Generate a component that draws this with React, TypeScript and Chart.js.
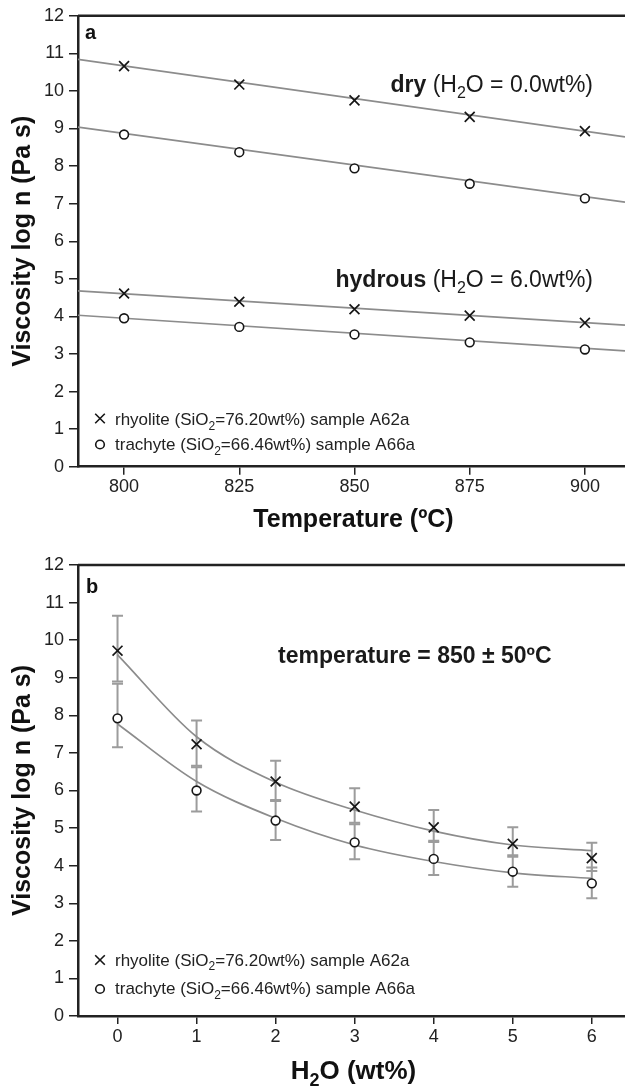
import React, { useEffect, useRef } from 'react';
import { Chart, registerables } from 'chart.js';

Chart.register(...registerables);

const FONT = "'Liberation Sans', Arial, Helvetica, sans-serif";

// ---------- shared axis ----------
const viscosityTicks = [0, 1, 2, 3, 4, 5, 6, 7, 8, 9, 10, 11, 12];

// ---------- panel a : viscosity vs temperature ----------
const temperatures = [800, 825, 850, 875, 900];
const temperatureTicks = [800, 825, 850, 875, 900];
const temperatureRange = [790, 908.7];
const dryRhyolite = [10.66, 10.17, 9.75, 9.31, 8.93];
const dryTrachyte = [8.84, 8.37, 7.94, 7.53, 7.14];
const hydrousRhyolite = [4.61, 4.39, 4.19, 4.02, 3.83];
const hydrousTrachyte = [3.95, 3.72, 3.52, 3.31, 3.12];
// fit lines, values at the two ends of the temperature range
const dryRhyoliteFit = [10.84, 8.78];
const dryTrachyteFit = [9.04, 7.04];
const hydrousRhyoliteFit = [4.68, 3.77];
const hydrousTrachyteFit = [4.03, 3.08];

// ---------- panel b : viscosity vs water content ----------
const waterContent = [0, 1, 2, 3, 4, 5, 6];
const waterTicks = [0, 1, 2, 3, 4, 5, 6];
const waterRange = [-0.5, 6.42];
const rhyoliteB = [9.72, 7.23, 6.24, 5.57, 5.02, 4.58, 4.2];
const rhyoliteBHigh = [10.65, 7.86, 6.79, 6.06, 5.48, 5.02, 4.61];
const rhyoliteBLow = [8.9, 6.66, 5.75, 5.14, 4.66, 4.24, 3.86];
const trachyteB = [7.92, 6.0, 5.2, 4.62, 4.18, 3.84, 3.53];
const trachyteBHigh = [8.84, 6.62, 5.72, 5.1, 4.63, 4.28, 3.95];
const trachyteBLow = [7.15, 5.44, 4.68, 4.17, 3.75, 3.44, 3.13];
const rhyoliteCurve = [9.61, 7.43, 6.22, 5.48, 4.92, 4.55, 4.4];
const trachyteCurve = [7.77, 6.24, 5.26, 4.55, 4.11, 3.81, 3.66];

const INK = '#161616';
const FIT = '#8c8c8c';
const ERR = '#9c9c9c';

type Run = { t: string; bold?: boolean; sub?: boolean };

function drawRuns(ctx: CanvasRenderingContext2D, runs: Run[], x: number, y: number, size: number, align: 'left' | 'center' | 'right' = 'left') {
  const fontFor = (r: Run) => `${r.bold ? 'bold ' : ''}${r.sub ? Math.round(size * 0.68) : size}px ${FONT}`;
  let total = 0;
  for (const r of runs) {
    ctx.font = fontFor(r);
    total += ctx.measureText(r.t).width;
  }
  let cx = align === 'center' ? x - total / 2 : align === 'right' ? x - total : x;
  ctx.textAlign = 'left';
  ctx.textBaseline = 'alphabetic';
  for (const r of runs) {
    ctx.font = fontFor(r);
    ctx.fillText(r.t, cx, y + (r.sub ? size * 0.28 : 0));
    cx += ctx.measureText(r.t).width;
  }
}

function drawCross(ctx: CanvasRenderingContext2D, x: number, y: number, h: number) {
  ctx.beginPath();
  ctx.moveTo(x - h, y - h);
  ctx.lineTo(x + h, y + h);
  ctx.moveTo(x - h, y + h);
  ctx.lineTo(x + h, y - h);
  ctx.stroke();
}

function drawCircle(ctx: CanvasRenderingContext2D, x: number, y: number, r: number) {
  ctx.beginPath();
  ctx.arc(x, y, r, 0, Math.PI * 2);
  ctx.fillStyle = '#fff';
  ctx.fill();
  ctx.stroke();
}

function drawLegend(ctx: CanvasRenderingContext2D, y1: number, y2: number, m1: number, m2: number) {
  ctx.save();
  ctx.strokeStyle = INK;
  ctx.lineWidth = 1.6;
  drawCross(ctx, 100, m1, 4.8);
  drawCircle(ctx, 100, m2, 4.3);
  ctx.fillStyle = '#222';
  drawRuns(ctx, [{ t: 'rhyolite (SiO' }, { t: '2', sub: true }, { t: '=76.20wt%) sample A62a' }], 115, y1, 17);
  drawRuns(ctx, [{ t: 'trachyte (SiO' }, { t: '2', sub: true }, { t: '=66.46wt%) sample A66a' }], 115, y2, 17);
  ctx.restore();
}

function topBorder(chart: any) {
  const { ctx, chartArea } = chart;
  ctx.save();
  ctx.strokeStyle = '#222';
  ctx.lineWidth = 2.5;
  ctx.beginPath();
  ctx.moveTo(chartArea.left, chartArea.top);
  ctx.lineTo(chartArea.right + 2, chartArea.top);
  ctx.stroke();
  ctx.restore();
}

function xAxis(range: number[], tickValues: number[], height: number) {
  return {
    type: 'linear',
    min: range[0],
    max: range[1],
    afterBuildTicks: (s: any) => {
      s.ticks = tickValues.map((v) => ({ value: v }));
    },
    afterFit: (s: any) => {
      s.height = height;
    },
    grid: { display: true, drawOnChartArea: false, drawTicks: true, tickLength: 8, color: '#222', lineWidth: 1.5 },
    border: { display: true, color: '#222', width: 2.5 },
    ticks: { font: { family: FONT, size: 18 }, color: '#222', padding: 2, maxRotation: 0, autoSkip: false },
    title: { display: false },
  };
}

function yAxis() {
  return {
    type: 'linear',
    min: 0,
    max: 12,
    afterBuildTicks: (s: any) => {
      s.ticks = viscosityTicks.map((v) => ({ value: v }));
    },
    afterFit: (s: any) => {
      s.width = 78;
    },
    grid: { display: true, drawOnChartArea: false, drawTicks: true, tickLength: 9, color: '#222', lineWidth: 1.5 },
    border: { display: true, color: '#222', width: 2.5 },
    ticks: { font: { family: FONT, size: 18 }, color: '#222', padding: 5, autoSkip: false },
    title: {
      display: true,
      text: 'Viscosity log n (Pa s)',
      font: { family: FONT, size: 25, weight: 'bold' },
      color: '#111',
      padding: { top: 8, bottom: 0 },
    },
  };
}

const crossStyle = {
  showLine: false,
  pointStyle: 'crossRot',
  pointRadius: 7,
  pointBorderWidth: 1.7,
  pointBorderColor: INK,
  pointBackgroundColor: INK,
};
const circleStyle = {
  showLine: false,
  pointStyle: 'circle',
  pointRadius: 4.4,
  pointBorderWidth: 1.6,
  pointBorderColor: INK,
  pointBackgroundColor: '#fff',
};
const fitStyle = {
  showLine: true,
  pointRadius: 0,
  borderColor: FIT,
  borderWidth: 1.7,
  fill: false,
};

function configA(): any {
  const pts = (vals: number[]) => temperatures.map((t, i) => ({ x: t, y: vals[i] }));
  const fit = (vals: number[]) => temperatureRange.map((t, i) => ({ x: t, y: vals[i] }));
  return {
    type: 'scatter',
    data: {
      datasets: [
        { label: 'dry rhyolite', data: pts(dryRhyolite), ...crossStyle },
        { label: 'dry trachyte', data: pts(dryTrachyte), ...circleStyle },
        { label: 'hydrous rhyolite', data: pts(hydrousRhyolite), ...crossStyle },
        { label: 'hydrous trachyte', data: pts(hydrousTrachyte), ...circleStyle },
        { label: 'dry rhyolite fit', data: fit(dryRhyoliteFit), ...fitStyle },
        { label: 'dry trachyte fit', data: fit(dryTrachyteFit), ...fitStyle },
        { label: 'hydrous rhyolite fit', data: fit(hydrousRhyoliteFit), ...fitStyle },
        { label: 'hydrous trachyte fit', data: fit(hydrousTrachyteFit), ...fitStyle },
      ],
    },
    options: {
      responsive: false,
      animation: false,
      events: [],
      layout: { autoPadding: false, padding: { top: 15.7, left: 0, right: 0, bottom: 0 } },
      plugins: { legend: { display: false }, tooltip: { enabled: false } },
      scales: { x: xAxis(temperatureRange, temperatureTicks, 73.3), y: yAxis() },
    },
    plugins: [
      {
        id: 'decorA',
        afterDraw(chart: any) {
          const { ctx, chartArea } = chart;
          topBorder(chart);
          ctx.save();
          ctx.fillStyle = '#111';
          drawRuns(ctx, [{ t: 'a', bold: true }], 85, 39, 20);
          ctx.fillStyle = '#1a1a1a';
          drawRuns(ctx, [{ t: 'dry', bold: true }, { t: ' (H' }, { t: '2', sub: true }, { t: 'O = 0.0wt%)' }], 593, 92, 23, 'right');
          drawRuns(ctx, [{ t: 'hydrous', bold: true }, { t: ' (H' }, { t: '2', sub: true }, { t: 'O = 6.0wt%)' }], 593, 287, 23, 'right');
          ctx.fillStyle = '#111';
          drawRuns(ctx, [{ t: 'Temperature (ºC)', bold: true }], (chartArea.left + chartArea.right) / 2 + 2, 527, 25, 'center');
          ctx.restore();
          drawLegend(ctx, 425, 450, 418.5, 444.5);
        },
      },
    ],
  };
}

function configB(): any {
  const pts = (vals: number[]) => waterContent.map((w, i) => ({ x: w, y: vals[i] }));
  return {
    type: 'scatter',
    data: {
      datasets: [
        { label: 'rhyolite', data: pts(rhyoliteB), ...crossStyle },
        { label: 'trachyte', data: pts(trachyteB), ...circleStyle },
        { label: 'rhyolite fit', data: pts(rhyoliteCurve), ...fitStyle, cubicInterpolationMode: 'monotone' },
        { label: 'trachyte fit', data: pts(trachyteCurve), ...fitStyle, cubicInterpolationMode: 'monotone' },
      ],
    },
    options: {
      responsive: false,
      animation: false,
      events: [],
      layout: { autoPadding: false, padding: { top: 25, left: 0, right: 0, bottom: 0 } },
      plugins: { legend: { display: false }, tooltip: { enabled: false } },
      scales: { x: xAxis(waterRange, waterTicks, 72), y: yAxis() },
    },
    plugins: [
      {
        id: 'errorBars',
        beforeDatasetsDraw(chart: any) {
          const { ctx } = chart;
          const x = chart.scales.x;
          const y = chart.scales.y;
          ctx.save();
          ctx.strokeStyle = ERR;
          ctx.lineWidth = 2;
          const sets = [
            [rhyoliteBHigh, rhyoliteBLow],
            [trachyteBHigh, trachyteBLow],
          ];
          for (const [hi, lo] of sets) {
            waterContent.forEach((w, i) => {
              const px = x.getPixelForValue(w);
              const pt = y.getPixelForValue(hi[i]);
              const pb = y.getPixelForValue(lo[i]);
              ctx.beginPath();
              ctx.moveTo(px, pt);
              ctx.lineTo(px, pb);
              ctx.moveTo(px - 5.5, pt);
              ctx.lineTo(px + 5.5, pt);
              ctx.moveTo(px - 5.5, pb);
              ctx.lineTo(px + 5.5, pb);
              ctx.stroke();
            });
          }
          ctx.restore();
        },
      },
      {
        id: 'decorB',
        afterDraw(chart: any) {
          const { ctx, chartArea } = chart;
          topBorder(chart);
          ctx.save();
          ctx.fillStyle = '#111';
          drawRuns(ctx, [{ t: 'b', bold: true }], 86, 52.7, 20);
          ctx.fillStyle = '#1a1a1a';
          drawRuns(ctx, [{ t: 'temperature = 850 ± 50ºC', bold: true }], 278, 123.3, 23);
          ctx.fillStyle = '#111';
          drawRuns(ctx, [{ t: 'H', bold: true }, { t: '2', bold: true, sub: true }, { t: 'O (wt%)', bold: true }], (chartArea.left + chartArea.right) / 2 + 2, 538.5, 26, 'center');
          ctx.restore();
          drawLegend(ctx, 425.7, 454.3, 420, 449);
        },
      },
    ],
  };
}

function ChartCanvas({ width, height, makeConfig }: { width: number; height: number; makeConfig: () => any }) {
  const ref = useRef<HTMLCanvasElement>(null);
  useEffect(() => {
    const chart = new Chart(ref.current as HTMLCanvasElement, makeConfig());
    return () => chart.destroy();
  }, []);
  return <canvas ref={ref} width={width} height={height} style={{ display: 'block', width, height }} />;
}

export default function App() {
  return (
    <div style={{ position: 'absolute', left: 0, top: 0, width: 625, height: 1088, background: '#fff', overflow: 'hidden' }}>
      <ChartCanvas width={625} height={540} makeConfig={configA} />
      <ChartCanvas width={625} height={548} makeConfig={configB} />
    </div>
  );
}
